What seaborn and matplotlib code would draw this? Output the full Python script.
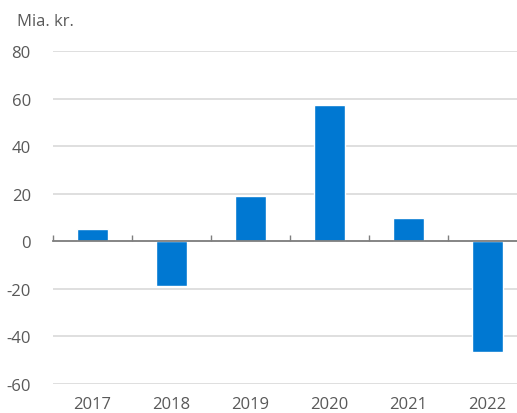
import matplotlib
matplotlib.use("Agg")
import matplotlib.pyplot as plt
import seaborn as sns
import pandas as pd

years = ["2017", "2018", "2019", "2020", "2021", "2022"]
values = [5.2, -18.9, 19.3, 57.4, 9.8, -46.5]
y_ticks = [-60, -40, -20, 0, 20, 40, 60, 80]
unit_label = "Mia. kr."

df = pd.DataFrame({"year": years, "value": values})

sns.set_theme(style="white")
plt.rcParams["font.family"] = ["Open Sans", "DejaVu Sans"]

text_color = "#595959"
grid_color = "#D9D9D9"
bar_color = "#0078D2"

fig = plt.figure(figsize=(5.17, 4.14), dpi=100)
W, H = 517, 414
left, right = 53, 527
top, bottom = 52.3, 385
ax = fig.add_axes([left / W, (H - bottom) / H, (right - left) / W, (bottom - top) / H])

sns.barplot(data=df, x="year", y="value", color=bar_color, width=0.4,
            saturation=1, ax=ax, zorder=3)

ax.set_ylim(-60, 80)
ax.set_xlim(-0.5, len(years) - 0.5)
ax.set_yticks(y_ticks)
ax.set_yticklabels([str(v) for v in y_ticks])
ax.yaxis.grid(True, color=grid_color, linewidth=1.2, zorder=0)
ax.xaxis.grid(False)
for s in ax.spines.values():
    s.set_visible(False)

ax.set_xlabel("")
ax.set_ylabel("")
ax.tick_params(axis="y", length=0, pad=16, labelsize=12, labelcolor=text_color)
ax.tick_params(axis="x", length=0, pad=9, labelsize=12, labelcolor=text_color)

# zero line with category separators pointing upward
zero_frac = (0 - (-60)) / (80 - (-60))
sec = ax.secondary_xaxis(zero_frac)
sec.set_xticks([i - 0.5 for i in range(len(years) + 1)])
sec.set_xticklabels([])
sec.tick_params(direction="in", length=4, width=1, color="#7F7F7F")
sec.spines["bottom"].set_color("#7F7F7F")
sec.spines["bottom"].set_linewidth(1.3)
sec.set_zorder(4)

fig.text(17 / W, (H - 22) / H, unit_label, fontsize=12, color=text_color,
         ha="left", va="center")

fig.savefig("out.png", dpi=100)
